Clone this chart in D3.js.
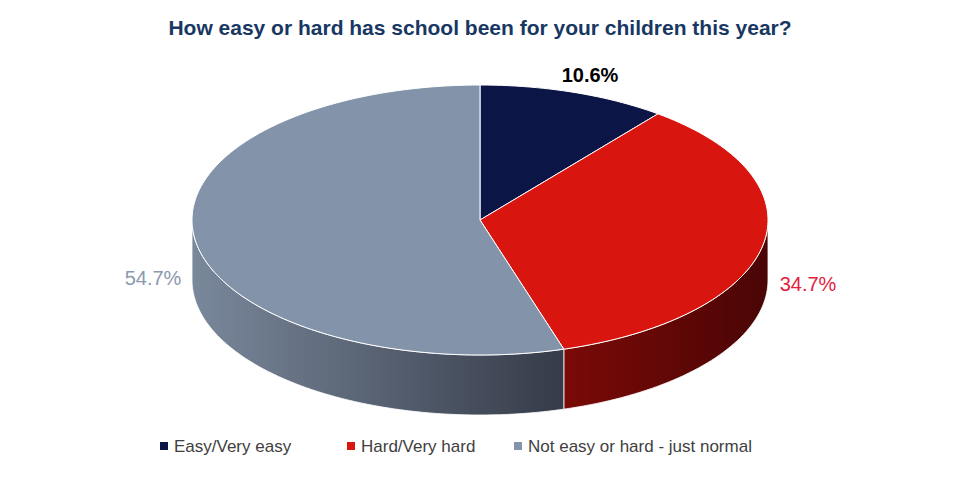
<!DOCTYPE html>
<html><head><meta charset="utf-8">
<script src="https://cdn.jsdelivr.net/npm/d3@7"></script>
<style>body{margin:0;background:#fff;font-family:Arial,"Liberation Sans",sans-serif;}</style>
</head><body><svg width="960" height="500"></svg>
<script>
var categories = ["Easy/Very easy", "Hard/Very hard", "Not easy or hard - just normal"];
var values = [10.6, 34.7, 54.7];
var colors = ["#0c1646", "#d8150f", "#8394aa"];
var labelColors = ["#000000", "#e3213b", "#8a99ad"];

var svg = d3.select("svg");
var cx = 480, cy = 220, rx = 288, ry = 135, depth = 60;

var pie = d3.pie().sort(null).value(function(d){ return d; });
var arcs = pie(values);

var pt = function(a, dy) {
  return [cx + rx * Math.sin(a), cy - ry * Math.cos(a) + (dy || 0)];
};
var arcPts = function(a0, a1, dy) {
  var n = Math.max(2, Math.ceil((a1 - a0) * 40)), p = [];
  for (var i = 0; i <= n; i++) p.push(pt(a0 + (a1 - a0) * i / n, dy));
  return p;
};

var defs = svg.append("defs");
var g1 = defs.append("linearGradient").attr("id", "gGray");
g1.append("stop").attr("offset", "0%").attr("stop-color", "#7a889c");
g1.append("stop").attr("offset", "100%").attr("stop-color", "#353b48");
var g2 = defs.append("linearGradient").attr("id", "gRed");
g2.append("stop").attr("offset", "0%").attr("stop-color", "#7a0a07");
g2.append("stop").attr("offset", "100%").attr("stop-color", "#4a0505");
var sideFill = ["#050a25", "url(#gRed)", "url(#gGray)"];

// side walls (front half only)
arcs.forEach(function(d, i) {
  var a0 = Math.max(d.startAngle, Math.PI / 2), a1 = Math.min(d.endAngle, 3 * Math.PI / 2);
  if (a1 <= a0) return;
  var top = arcPts(a0, a1, 0), bot = arcPts(a0, a1, depth).reverse();
  svg.append("path")
    .attr("d", d3.line()(top.concat(bot)) + "Z")
    .attr("fill", sideFill[i])
    .attr("stroke", "#fff").attr("stroke-width", 0.8);
});

// top faces
arcs.forEach(function(d, i) {
  var p = [[cx, cy]].concat(arcPts(d.startAngle, d.endAngle, 0));
  svg.append("path")
    .attr("d", d3.line()(p) + "Z")
    .attr("fill", colors[i])
    .attr("stroke", "#fff").attr("stroke-width", 1);
});

// labels
var labelPos = [[590, 82], [808, 291], [153, 285]];
arcs.forEach(function(d, i) {
  svg.append("text")
    .attr("x", labelPos[i][0]).attr("y", labelPos[i][1])
    .attr("text-anchor", "middle")
    .attr("font-size", 20).attr("font-weight", i === 0 ? "bold" : "normal")
    .attr("fill", labelColors[i])
    .text(values[i].toFixed(1) + "%");
});

svg.append("text").attr("x", 480).attr("y", 35).attr("text-anchor", "middle")
  .attr("font-size", 21).attr("font-weight", "bold").attr("fill", "#183763")
  .text("How easy or hard has school been for your children this year?");

// legend
var legendX = [160, 347, 514];
var lg = svg.selectAll(".lg").data(categories).enter().append("g")
  .attr("transform", function(d, i){ return "translate(" + legendX[i] + ",452)"; });
lg.append("rect").attr("x", 0).attr("y", -10).attr("width", 8).attr("height", 8)
  .attr("fill", function(d, i){ return colors[i]; });
lg.append("text").attr("x", 14).attr("y", 0).attr("font-size", 17).attr("fill", "#404040")
  .text(function(d){ return d; });
</script></body></html>
